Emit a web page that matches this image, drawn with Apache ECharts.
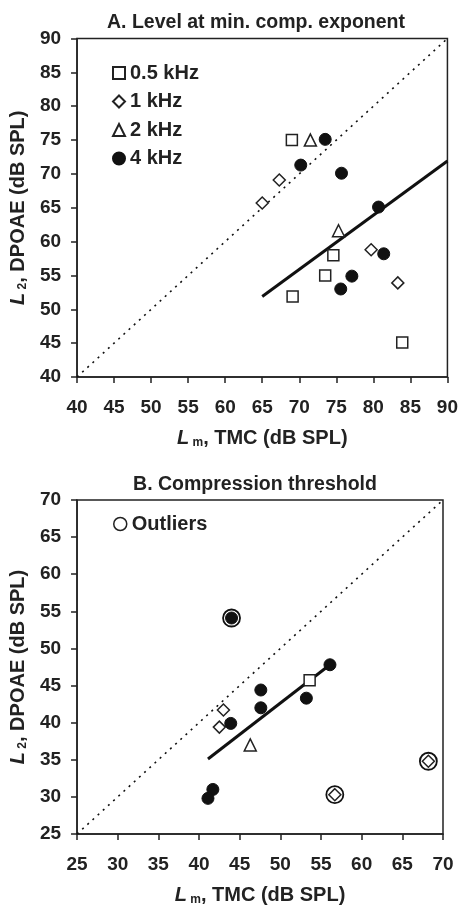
<!DOCTYPE html>
<html>
<head>
<meta charset="utf-8">
<script src="https://cdn.jsdelivr.net/npm/echarts@6/dist/echarts.min.js"></script>
<style>
  html, body { margin: 0; padding: 0; background: #fff; }
  #chart { width: 461px; height: 907px; }
</style>
</head>
<body>
<div id="chart"></div>
<script>
// ---- Panel A: level at minimum compression exponent ([Lm TMC, L2 DPOAE], dB SPL)
const a500 = [[69.0, 75.0], [74.6, 58.0], [73.5, 55.0], [69.1, 51.9], [83.9, 45.1]];
const a1k  = [[65.0, 65.7], [67.3, 69.1], [79.7, 58.8], [83.3, 53.9]];
const a2k  = [[71.5, 75.0], [75.3, 61.6]];
const a4k  = [[73.5, 75.1], [70.2, 71.3], [75.7, 70.1], [80.7, 65.1], [81.4, 58.2], [77.1, 54.9], [75.6, 53.0]];
const aFit   = [[65.0, 51.9], [90.0, 71.9]];
const aUnity = [[40, 40], [90, 90]];
const aRange = [40, 90];

// ---- Panel B: compression threshold
const b500 = [[53.6, 45.7]];
const b1k  = [[43.0, 41.7], [42.5, 39.4], [56.7, 30.3], [68.2, 34.8]];
const b2k  = [[46.3, 37.0]];
const b4k  = [[56.1, 47.8], [47.6, 44.4], [47.6, 42.0], [53.2, 43.3], [43.9, 39.9], [41.7, 31.0], [41.1, 29.8], [44.0, 54.1]];
const bOutliers = [[44.0, 54.1], [56.7, 30.3], [68.2, 34.8]];
const bFit   = [[41.1, 35.1], [56.1, 47.8]];
const bUnity = [[25, 25], [70, 70]];
const bRange = [25, 70];

const tickStep = 5;
const freqNames = ['0.5 kHz', '1 kHz', '2 kHz', '4 kHz'];
const outlierName = 'Outliers';
const titleA = 'A. Level at min. comp. exponent';
const titleB = 'B. Compression threshold';
const xName = '{i|L}{s| m}{n|, TMC (dB SPL)}';
const yName = '{i|L}{s| 2}{n|, DPOAE (dB SPL)}';

const INK = '#222';
const FONT = '"Liberation Sans", Arial, Helvetica, sans-serif';

function nameStyle() {
  return {
    color: INK,
    fontFamily: FONT,
    fontWeight: 'bold',
    fontSize: 20,
    rich: {
      i: { fontFamily: FONT, fontWeight: 'bold', fontStyle: 'italic', fontSize: 20, lineHeight: 20, verticalAlign: 'top', color: INK },
      s: { fontFamily: FONT, fontWeight: 'bold', fontSize: 12, lineHeight: 12, padding: [9, 0, 0, 0], verticalAlign: 'top', color: INK },
      n: { fontFamily: FONT, fontWeight: 'bold', fontSize: 20, lineHeight: 20, verticalAlign: 'top', color: INK }
    }
  };
}

function valueAxis(gridIndex, range, name, isY) {
  return {
    type: 'value',
    gridIndex: gridIndex,
    min: range[0],
    max: range[1],
    interval: tickStep,
    axisLine: { show: true, onZero: false, lineStyle: { color: INK, width: 1.5 } },
    axisTick: { show: true, inside: false, length: 6, lineStyle: { color: INK, width: 1.5 } },
    splitLine: { show: false },
    axisLabel: { color: INK, fontFamily: FONT, fontWeight: 'bold', fontSize: 19, margin: isY ? 16 : 21 },
    name: name,
    nameLocation: 'middle',
    nameRotate: isY ? 90 : 0,
    nameGap: isY ? 42 : 51,
    nameTextStyle: nameStyle()
  };
}

const openMark = { color: '#fff', borderColor: INK, borderWidth: 1.5, opacity: 1 };
const filledMark = { color: '#111', borderColor: '#111', borderWidth: 1, opacity: 1 };

function scatter(name, data, idx, symbol, size, style) {
  return {
    type: 'scatter', name: name, data: data,
    xAxisIndex: idx, yAxisIndex: idx,
    symbol: symbol, symbolSize: size,
    itemStyle: style, z: 4, silent: true
  };
}

function line(data, idx, width, dash) {
  return {
    type: 'line', data: data, xAxisIndex: idx, yAxisIndex: idx,
    symbol: 'none', silent: true, z: 2,
    lineStyle: { color: '#111', width: width, type: dash || 'solid' }
  };
}

const legendText = { color: INK, fontFamily: FONT, fontWeight: 'bold', fontSize: 20 };

const chart = echarts.init(document.getElementById('chart'), null, { renderer: 'canvas' });

chart.setOption({
  backgroundColor: '#fff',
  animation: false,
  title: [
    { text: titleA, left: 251, top: 8, textAlign: 'center',
      textStyle: { color: INK, fontFamily: FONT, fontWeight: 'bold', fontSize: 19.5 } },
    { text: titleB, left: 250, top: 470, textAlign: 'center',
      textStyle: { color: INK, fontFamily: FONT, fontWeight: 'bold', fontSize: 19.5 } }
  ],
  grid: [
    { left: 76, top: 38.5, width: 372, height: 338.5, show: true, borderColor: INK, borderWidth: 1.5, backgroundColor: 'transparent' },
    { left: 75, top: 500, width: 368, height: 338, show: true, borderColor: INK, borderWidth: 1.5, backgroundColor: 'transparent' }
  ],
  xAxis: [
    valueAxis(0, aRange, xName, false),
    valueAxis(1, bRange, xName, false)
  ],
  yAxis: [
    valueAxis(0, aRange, yName, true),
    valueAxis(1, bRange, yName, true)
  ],
  legend: [
    {
      data: freqNames, orient: 'vertical', left: 107, top: 58,
      itemWidth: 12, itemHeight: 12, itemGap: 8.5, selectedMode: false,
      textStyle: legendText
    },
    {
      data: [outlierName], orient: 'vertical', left: 108, top: 509,
      itemWidth: 13, itemHeight: 13, selectedMode: false,
      textStyle: legendText,
      itemStyle: { color: '#fff', borderColor: INK, borderWidth: 1.5 }
    }
  ],
  series: [
    line(aUnity, 0, 1.6, [2, 5]),
    line(aFit, 0, 3),
    scatter(freqNames[0], a500, 0, 'rect', 11, openMark),
    scatter(freqNames[1], a1k, 0, 'diamond', 12, openMark),
    scatter(freqNames[2], a2k, 0, 'triangle', 12, openMark),
    scatter(freqNames[3], a4k, 0, 'circle', 12, filledMark),

    line(bUnity, 1, 1.6, [2, 5]),
    line(bFit, 1, 3),
    {
      type: 'scatter', name: outlierName, data: bOutliers, xAxisIndex: 1, yAxisIndex: 1,
      symbol: 'circle', symbolSize: 17, silent: true, z: 3,
      itemStyle: { color: '#fff', borderColor: '#111', borderWidth: 1.8, opacity: 1 }
    },
    scatter(freqNames[0], b500, 1, 'rect', 11, openMark),
    scatter(freqNames[1], b1k, 1, 'diamond', 12, openMark),
    scatter(freqNames[2], b2k, 1, 'triangle', 12, openMark),
    scatter(freqNames[3], b4k, 1, 'circle', 12, filledMark)
  ]
});
</script>
</body>
</html>
